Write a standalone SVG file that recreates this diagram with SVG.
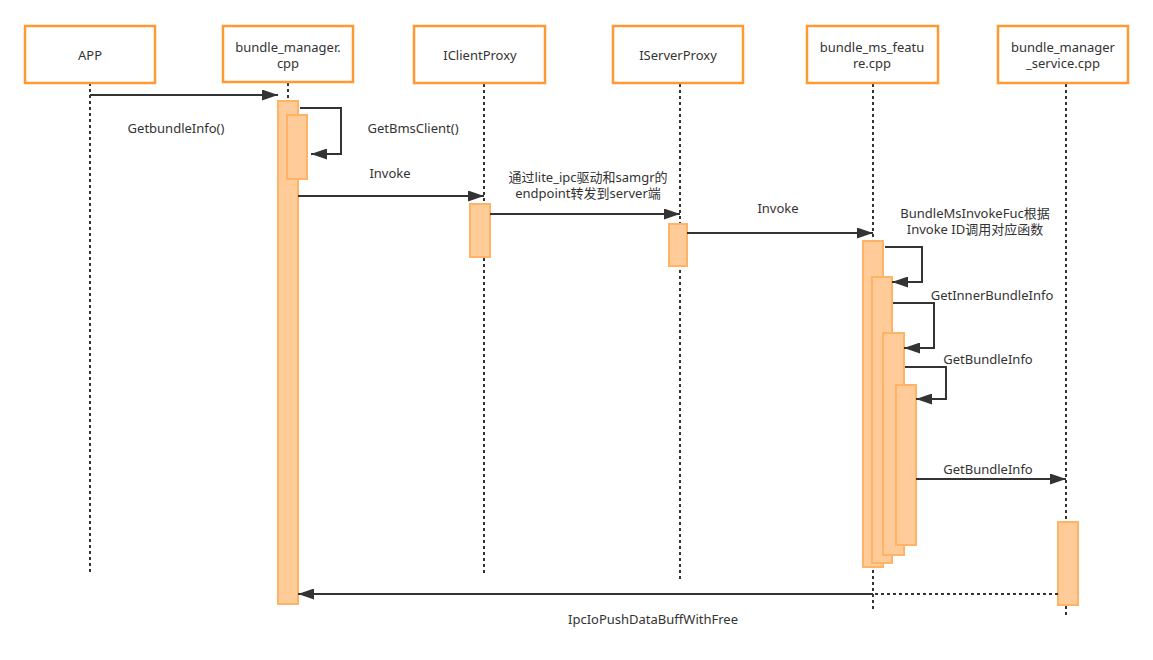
<svg xmlns="http://www.w3.org/2000/svg" width="1153" height="660" viewBox="0 0 1153 660">
<style>
.hdr{fill:#fff;stroke:#FF9933;stroke-width:2.5}
.act{fill:#FFCC99;stroke:#FFB366;stroke-width:2}
.life{stroke:#333;stroke-width:2;stroke-dasharray:3 3;fill:none}
.msg{stroke:#333;stroke-width:2;fill:none}
.ret{stroke:#333;stroke-width:2;fill:none;stroke-dasharray:3 3}
text{font-family:"Noto Sans","Noto Sans CJK SC",sans-serif;font-size:13px;fill:#333;text-anchor:middle}
</style>
<defs>
<marker id="arr" markerUnits="userSpaceOnUse" markerWidth="17" markerHeight="11" refX="16" refY="5.5" orient="auto">
<path d="M0,0 L16,5.5 L0,11 z" fill="#333"/>
</marker>
</defs>
<rect width="1153" height="660" fill="#fff"/>
<g id="lifelines">
<line class="life" x1="90" y1="83" x2="90" y2="573"/>
<line class="life" x1="288" y1="83" x2="288" y2="101"/>
<line class="life" x1="484" y1="84" x2="484" y2="576"/>
<line class="life" x1="680" y1="84" x2="680" y2="579"/>
<line class="life" x1="873" y1="84" x2="873" y2="611"/>
<line class="life" x1="1066" y1="84" x2="1066" y2="616"/>
</g>
<g id="node-app"><rect class="hdr" x="25" y="26" width="130" height="57"/><text x="90" y="60">APP</text></g>
<g id="node-bm"><rect class="hdr" x="223" y="26" width="130" height="56"/><text x="288" y="52">bundle_manager.</text><text x="288" y="68">cpp</text></g>
<g id="node-icp"><rect class="hdr" x="414" y="26" width="131" height="57"/><text x="480" y="60">IClientProxy</text></g>
<g id="node-isp"><rect class="hdr" x="613" y="26" width="130" height="57"/><text x="678" y="60">IServerProxy</text></g>
<g id="node-bmf"><rect class="hdr" x="807" y="26" width="131" height="57"/><text x="872" y="52">bundle_ms_featu</text><text x="872" y="68">re.cpp</text></g>
<g id="node-bms"><rect class="hdr" x="998" y="26" width="130" height="57"/><text x="1063" y="52">bundle_manager</text><text x="1063" y="68">_service.cpp</text></g>
<g id="activations">
<rect class="act" x="278" y="101" width="20" height="503"/>
<rect class="act" x="287" y="115" width="20" height="64"/>
<rect class="act" x="470" y="204" width="20" height="53"/>
<rect class="act" x="669" y="224" width="18" height="42"/>
<rect class="act" x="863" y="241" width="20" height="326"/>
<rect class="act" x="872" y="277" width="20" height="286"/>
<rect class="act" x="883" y="333" width="21" height="222"/>
<rect class="act" x="896" y="385" width="20" height="160"/>
<rect class="act" x="1058" y="522" width="20" height="83"/>
</g>
<g id="connectors">
<line class="msg" x1="90" y1="95" x2="278" y2="95" marker-end="url(#arr)"/>
<polyline class="msg" points="300,108 341,108 341,154 311,154" marker-end="url(#arr)"/>
<line class="msg" x1="298" y1="196" x2="484" y2="196" marker-end="url(#arr)"/>
<line class="msg" x1="490" y1="214" x2="680" y2="214" marker-end="url(#arr)"/>
<line class="msg" x1="687" y1="233" x2="873" y2="233" marker-end="url(#arr)"/>
<polyline class="msg" points="885,247 922,247 922,282 892,282" marker-end="url(#arr)"/>
<polyline class="msg" points="893,303 934,303 934,348 904,348" marker-end="url(#arr)"/>
<polyline class="msg" points="905,367 946,367 946,399 916,399" marker-end="url(#arr)"/>
<line class="msg" x1="916" y1="479" x2="1066" y2="479" marker-end="url(#arr)"/>
<line class="ret" x1="1058" y1="594" x2="873" y2="594"/>
<line class="msg" x1="873" y1="594" x2="298" y2="594" marker-end="url(#arr)"/>
</g>
<g id="labels">
<text x="176" y="133">GetbundleInfo()</text>
<text x="413" y="133">GetBmsClient()</text>
<text x="390" y="178">Invoke</text>
<text x="588" y="182">通过lite_ipc驱动和samgr的</text>
<text x="588" y="198">endpoint转发到server端</text>
<text x="778" y="213">Invoke</text>
<text x="975" y="218">BundleMsInvokeFuc根据</text>
<text x="975" y="234">Invoke ID调用对应函数</text>
<text x="992" y="300">GetInnerBundleInfo</text>
<text x="988" y="364">GetBundleInfo</text>
<text x="988" y="474">GetBundleInfo</text>
<text x="653" y="624">IpcIoPushDataBuffWithFree</text>
</g>
</svg>
